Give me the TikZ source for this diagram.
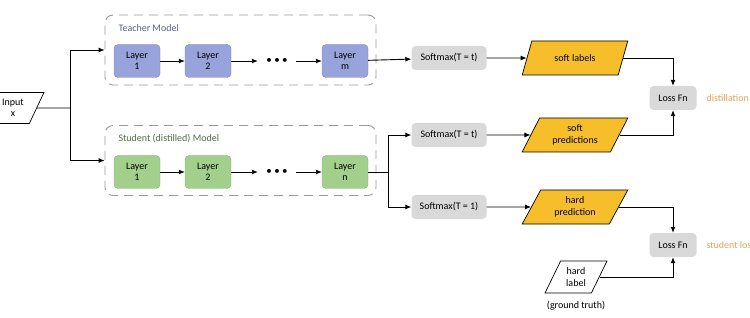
\documentclass[tikz,border=0pt]{standalone}
\usepackage{fontspec}
\setmainfont{Carlito}
\usepackage{xcolor}
\usetikzlibrary{arrows.meta,positioning,shapes.geometric,fit,calc}

\definecolor{teachblue}{HTML}{97A3DA}
\definecolor{studgreen}{HTML}{A3CF8C}
\definecolor{outyellow}{HTML}{F5BE2A}
\definecolor{lossorange}{HTML}{E3A35A}

\newcommand{\layerdots}{\textbullet\hspace{2.5pt}\textbullet\hspace{2.5pt}\textbullet}

\begin{document}
\begin{tikzpicture}[x=1pt, y=-1pt,
        every node/.style={font=\fontsize{10}{11.5}\selectfont},
        group/.style={draw=gray!80, line width=0.9pt, dash pattern=on 9pt off 6pt, rounded corners=8pt,
                      minimum width=271pt, minimum height=70pt},
        layer/.style={rounded corners=4pt, align=center, minimum width=46pt, minimum height=33pt,
                      inner sep=1pt},
        tlayer/.style={layer, fill=teachblue, draw=teachblue!85!black},
        slayer/.style={layer, fill=studgreen, draw=studgreen!85!black},
        dotsnode/.style={font=\fontsize{11}{11}\selectfont, inner sep=0pt, minimum width=38pt},
        op/.style={rounded corners=4pt, fill=gray!30, align=center, minimum height=24pt, inner sep=2pt},
        data/.style={trapezium, trapezium left angle=62, trapezium right angle=118, trapezium stretches=true,
                     draw, line width=0.7pt, align=center, minimum width=106pt, minimum height=34pt, inner sep=1pt},
        arrow/.style={-{Latex[length=6pt, width=5pt]}, line width=0.9pt},
        line/.style={line width=0.9pt}
    ]
        \useasboundingbox (0,0) rectangle (750,318);

        % input
        \node[data, fill=white, minimum width=62pt, minimum height=31pt] (input) at (13,108) {Input\\x};
        \coordinate (split) at (70,108);

        % teacher
        \node[group] (teacher) at (240.5,50) {};
        \node[anchor=west, text=teachblue!60!black] at (115,28) {Teacher Model};
        \node[tlayer] (t1) at (137,61) {Layer\\1};
        \node[tlayer] (t2) at (208,61) {Layer\\2};
        \node[dotsnode] (tdots) at (277,61) {\layerdots};
        \node[tlayer] (tm) at (345,61) {Layer\\m};

        % student
        \node[group] (student) at (240.5,160.5) {};
        \node[anchor=west, text=studgreen!50!black] at (115,139) {Student (distilled) Model};
        \node[slayer] (s1) at (137,172) {Layer\\1};
        \node[slayer] (s2) at (208,172) {Layer\\2};
        \node[dotsnode] (sdots) at (277,172) {\layerdots};
        \node[slayer] (sn) at (345,172) {Layer\\n};
        \coordinate (split2) at (388,172);

        % outputs
        \node[op, minimum width=75pt] (sm1) at (449,58) {Softmax(T = t)};
        \node[op, minimum width=75pt] (sm2) at (449,135) {Softmax(T = t)};
        \node[op, minimum width=75pt] (sm3) at (449,207) {Softmax(T = 1)};
        \node[data, fill=outyellow] (soft) at (575,58) {soft labels};
        \node[data, fill=outyellow] (softp) at (575,135) {soft\\predictions};
        \node[data, fill=outyellow] (hardp) at (575,207) {hard\\prediction};
        \node[data, fill=white, minimum width=62pt, minimum height=32pt] (hardl) at (576,277) {hard\\label};
        \node (gt) at (576,306) {(ground truth)};
        \node[op, minimum width=47pt] (loss1) at (673,98) {Loss Fn};
        \node[op, minimum width=47pt] (loss2) at (673,245) {Loss Fn};
        \node[anchor=west, text=lossorange] (dl) at (703,98) {distillation loss};
        \node[anchor=west, text=lossorange] (sl) at (703,245) {student loss};

        \draw[line] (input) -- (split);
        \draw[arrow] (split) |- (teacher.west);
        \draw[arrow] (split) |- (student.west);
        \draw[arrow] (t1) -- (t2); \draw[arrow] (t2) -- (tdots); \draw[arrow] (tdots) -- (tm);
        \draw[arrow] (s1) -- (s2); \draw[arrow] (s2) -- (sdots); \draw[arrow] (sdots) -- (sn);
        \draw[arrow] (tm) -- (sm1);
        \draw[line] (sn) -- (split2);
        \draw[arrow] (split2) |- (sm2);
        \draw[arrow] (split2) |- (sm3);
        \draw[arrow] (sm1) -- (soft);
        \draw[arrow] (sm2) -- (softp);
        \draw[arrow] (sm3) -- (hardp);
        \draw[arrow] (soft) -| (loss1);
        \draw[arrow] (softp) -| (loss1);
        \draw[arrow] (hardp) -| (loss2);
        \draw[arrow] (hardl) -| (loss2);
    \end{tikzpicture}
\end{document}
